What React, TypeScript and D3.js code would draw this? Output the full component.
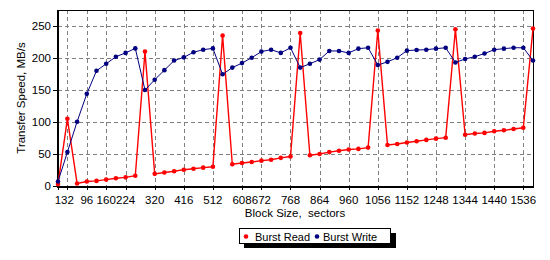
import React from "react";
import * as d3 from "d3";

const blockSizes = [1, 32, 64, 96, 128, 160, 192, 224, 256, 288, 320, 352, 384, 416, 448, 480, 512, 544, 576, 608, 640, 672, 704, 736, 768, 800, 832, 864, 896, 928, 960, 992, 1024, 1056, 1088, 1120, 1152, 1184, 1216, 1248, 1280, 1312, 1344, 1376, 1408, 1440, 1472, 1504, 1536, 1568];
const burstRead = [3, 105, 4, 7, 8, 10, 12, 13.5, 16, 210, 19, 21, 23, 25.5, 27, 28.7, 30, 235, 34, 36, 37.5, 39.6, 41, 44, 46, 239, 48, 50, 53, 55, 57, 58, 60, 243, 64, 65.6, 68, 70, 72, 74, 75.5, 245, 80, 82, 83, 85.5, 87, 89, 91, 246];
const burstWrite = [7, 53, 100.5, 144, 180, 191, 202, 208, 215, 150, 166, 181, 196, 201, 209, 213, 215, 174.5, 185, 192, 200.5, 210, 213, 208, 216, 185, 191, 197.5, 211, 211, 208, 214.6, 216, 189, 194, 200.5, 211.5, 212.5, 213, 214.6, 216, 193, 198.5, 202, 207, 213, 214.6, 216, 216, 196];
const xTicks = [1, 32, 96, 160, 224, 320, 416, 512, 608, 672, 768, 864, 960, 1056, 1152, 1248, 1344, 1440, 1536];
const yTicks = [0, 50, 100, 150, 200, 250];
const seriesNames = ["Burst Read", "Burst Write"];
const seriesColors = ["#ff0000", "#000080"];

export default function App() {
  const left = 58, right = 533, top = 10, bottom = 186;
  const x = d3.scaleLinear().domain([1, 1568]).range([left, right]);
  const y = d3.scaleLinear().domain([0, 275]).range([bottom, top]);
  const font = "Liberation Sans, Arial, sans-serif";
  const series = [burstRead, burstWrite];
  const line = d3.line<number>().x((_, i) => x(blockSizes[i])).y((d) => y(d));
  const legendItems = [
    { marker: 246, text: 255 },
    { marker: 317, text: 323 },
  ];

  return (
    <svg width={550} height={260} style={{ position: "absolute", left: 0, top: 0, background: "#fff" }} fontFamily={font}>
      <rect x={0} y={0} width={550} height={260} fill="#fff" />
      {xTicks.map((t) => (
        <line key={"gx" + t} x1={Math.round(x(t)) + 0.5} x2={Math.round(x(t)) + 0.5} y1={top} y2={bottom} stroke="#808080" strokeDasharray="4,3" />
      ))}
      {yTicks.map((t) => (
        <line key={"gy" + t} x1={left} x2={right} y1={Math.round(y(t)) + 0.5} y2={Math.round(y(t)) + 0.5} stroke="#808080" strokeDasharray="4,3" />
      ))}
      <line x1={left} x2={right} y1={top + 0.5} y2={top + 0.5} stroke="#000" />
      <line x1={right + 0.5} x2={right + 0.5} y1={top} y2={bottom} stroke="#000" />
      <line x1={left} x2={left} y1={top} y2={bottom + 1} stroke="#000" strokeWidth={2} />
      <line x1={left - 1} x2={right + 1} y1={bottom + 1} y2={bottom + 1} stroke="#000" strokeWidth={2} />
      {yTicks.map((t) => (
        <g key={"yt" + t}>
          <line x1={left - 5} x2={left} y1={Math.round(y(t)) + 0.5} y2={Math.round(y(t)) + 0.5} stroke="#000" />
          <text x={51} y={y(t) + 4} fontSize={11.5} textAnchor="end" fill="#000">{t}</text>
        </g>
      ))}
      {xTicks.map((t) => (
        <g key={"xt" + t}>
          <line x1={Math.round(x(t)) + 0.5} x2={Math.round(x(t)) + 0.5} y1={bottom} y2={bottom + 4} stroke="#000" />
          <text x={x(t)} y={204} fontSize={11.5} textAnchor="middle" fill="#000">{t}</text>
        </g>
      ))}
      <text x={295} y={217} fontSize={11.5} textAnchor="middle" fill="#000">{"Block Size,\u00a0 sectors"}</text>
      <text transform={`translate(25,${(top + bottom) / 2}) rotate(-90)`} fontSize={11.5} textAnchor="middle" fill="#000">Transfer Speed, MB/s</text>
      {series.map((s, si) => (
        <g key={"s" + si}>
          <path d={line(s) || ""} fill="none" stroke={seriesColors[si]} strokeWidth={si === 0 ? 1.4 : 1} />
          {s.map((v, i) => (
            <circle key={i} cx={x(blockSizes[i])} cy={y(v)} r={2.3} fill={seriesColors[si]} />
          ))}
        </g>
      ))}
      <rect x={244} y={233} width={152} height={15} fill="#000" />
      <rect x={239.5} y={228.5} width={151} height={15} fill="#fff" stroke="#000" />
      {legendItems.map((it, i) => (
        <g key={"lg" + i}>
          <circle cx={it.marker} cy={236.5} r={2.3} fill={seriesColors[i]} />
          <text x={it.text} y={241} fontSize={11} fill="#000">{seriesNames[i]}</text>
        </g>
      ))}
    </svg>
  );
}
